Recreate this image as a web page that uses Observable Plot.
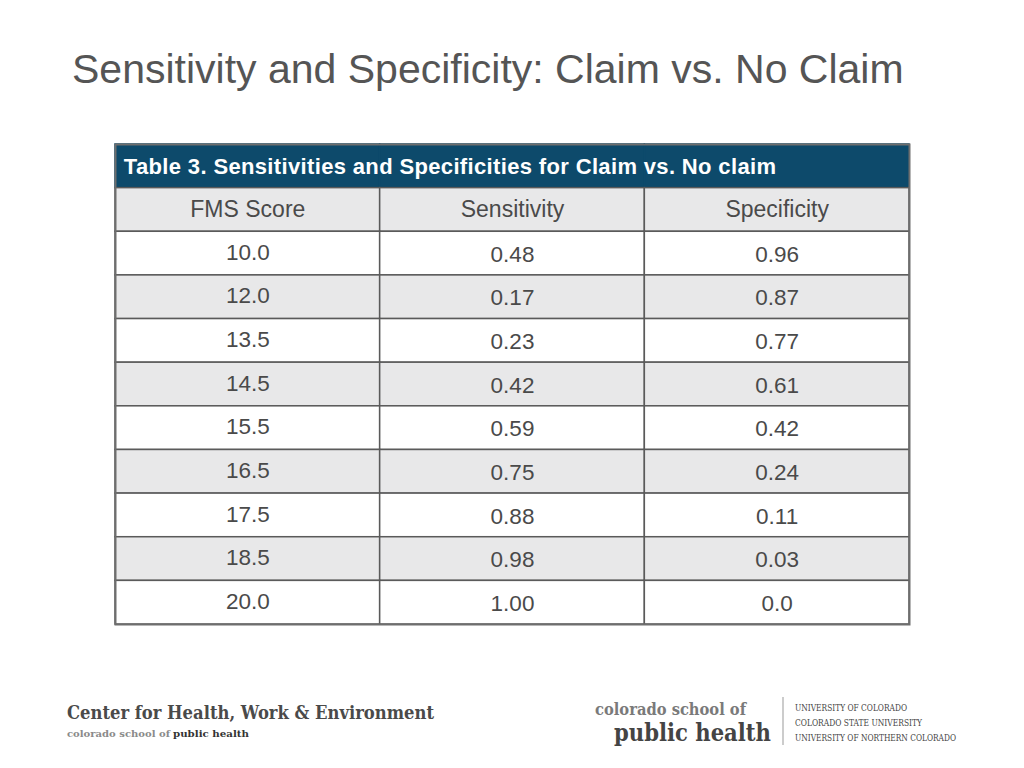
<!DOCTYPE html>
<html>
<head>
<meta charset="utf-8">
<script src="https://cdn.jsdelivr.net/npm/d3@7"></script>
<script src="https://cdn.jsdelivr.net/npm/@observablehq/plot@0.6"></script>
<style>
  html, body { margin: 0; padding: 0; background: #fff; width: 1024px; height: 768px; overflow: hidden; }
  #title { position: absolute; left: 72px; top: 46px; font-family: "Liberation Sans", Arial, sans-serif; font-size: 41px; color: #555; white-space: nowrap; }
  #chart { position: absolute; left: 0; top: 142px; }
  #footer { position: absolute; left: 0; top: 690px; }
</style>
</head>
<body>
<div id="title">Sensitivity and Specificity: Claim vs. No Claim</div>
<div id="chart"></div>
<svg id="footer" width="1024" height="70" xmlns="http://www.w3.org/2000/svg">
  <g font-family="'DejaVu Serif', serif" font-weight="bold">
    <text x="67" y="29" font-size="19" fill="#4a4a4a" textLength="367" lengthAdjust="spacingAndGlyphs">Center for Health, Work &amp; Environment</text>
    <text x="67" y="47" font-size="10" fill="#8a8a8a" textLength="103" lengthAdjust="spacingAndGlyphs">colorado school of</text>
    <text x="173" y="47" font-size="10" fill="#333" textLength="76" lengthAdjust="spacingAndGlyphs">public health</text>
    <text x="595" y="25" font-size="17" fill="#7a7a7a" textLength="151" lengthAdjust="spacingAndGlyphs">colorado school of</text>
    <text x="614" y="51" font-size="24" fill="#444" textLength="157" lengthAdjust="spacingAndGlyphs">public health</text>
  </g>
  <line x1="783" x2="783" y1="7" y2="55" stroke="#999" stroke-width="1"/>
  <g font-family="'DejaVu Serif', serif" font-size="8.5" fill="#444">
    <text x="795" y="21" textLength="112" lengthAdjust="spacingAndGlyphs">UNIVERSITY OF COLORADO</text>
    <text x="795" y="36" textLength="127" lengthAdjust="spacingAndGlyphs">COLORADO STATE UNIVERSITY</text>
    <text x="795" y="51" textLength="161" lengthAdjust="spacingAndGlyphs">UNIVERSITY OF NORTHERN COLORADO</text>
  </g>
</svg>
<script>
const tableTitle = "Table 3. Sensitivities and Specificities for Claim vs. No claim";
const columns = ["FMS Score", "Sensitivity", "Specificity"];
const fmsScores = ["10.0", "12.0", "13.5", "14.5", "15.5", "16.5", "17.5", "18.5", "20.0"];
const sensitivity = ["0.48", "0.17", "0.23", "0.42", "0.59", "0.75", "0.88", "0.98", "1.00"];
const specificity = ["0.96", "0.87", "0.77", "0.61", "0.42", "0.24", "0.11", "0.03", "0.0"];

const rowKeys = ["title", "head", ...fmsScores];
const headerFill = "#0d4a6b";
const gray = "#e8e8e9";

const titleCells = columns.map(c => ({col: c, row: "title"}));
const bodyCells = [];
columns.forEach(c => bodyCells.push({col: c, row: "head", fill: gray}));
fmsScores.forEach((f, i) => columns.forEach(c => bodyCells.push({col: c, row: f, fill: i % 2 ? gray : "#ffffff"})));

const headLabels = columns.map(c => ({col: c, row: "head", text: c}));
const values = [];
fmsScores.forEach((f, i) => {
  values.push({col: columns[0], row: f, text: f, first: true});
  values.push({col: columns[1], row: f, text: sensitivity[i], first: false});
  values.push({col: columns[2], row: f, text: specificity[i], first: false});
});

const chart = Plot.plot({
  width: 1024,
  height: 484,
  marginLeft: 115,
  marginRight: 115,
  marginTop: 2,
  marginBottom: 2,
  style: {fontFamily: "'Liberation Sans', Arial, sans-serif", background: "transparent"},
  x: {type: "band", domain: columns, padding: 0, round: false, axis: null},
  y: {type: "band", domain: rowKeys, padding: 0, round: false, axis: null},
  marks: [
    Plot.cell(titleCells, {x: "col", y: "row", fill: headerFill, stroke: headerFill, strokeWidth: 1.5, inset: 0}),
    Plot.cell(bodyCells, {x: "col", y: "row", fill: "fill", stroke: "#5a5a5a", strokeWidth: 1.5, inset: 0}),
    Plot.frame({stroke: "#6e6e6e", strokeWidth: 2}),
    Plot.text([tableTitle], {x: () => columns[0], y: () => "title", text: d => d, textAnchor: "start", dx: -124, dy: 1, fill: "#ffffff", fontWeight: "bold", fontSize: 22}),
    Plot.text(headLabels, {x: "col", y: "row", text: "text", fill: "#4a4a4a", fontSize: 23}),
    Plot.text(values.filter(d => d.first), {x: "col", y: "row", text: "text", fill: "#4a4a4a", fontSize: 22.5, dy: -1}),
    Plot.text(values.filter(d => !d.first), {x: "col", y: "row", text: "text", fill: "#4a4a4a", fontSize: 22.5, dy: 1})
  ]
});
chart.querySelectorAll("text").forEach(t => {
  if (t.textContent === tableTitle) t.setAttribute("letter-spacing", "0.35");
});
document.getElementById("chart").appendChild(chart);
</script>
</body>
</html>
